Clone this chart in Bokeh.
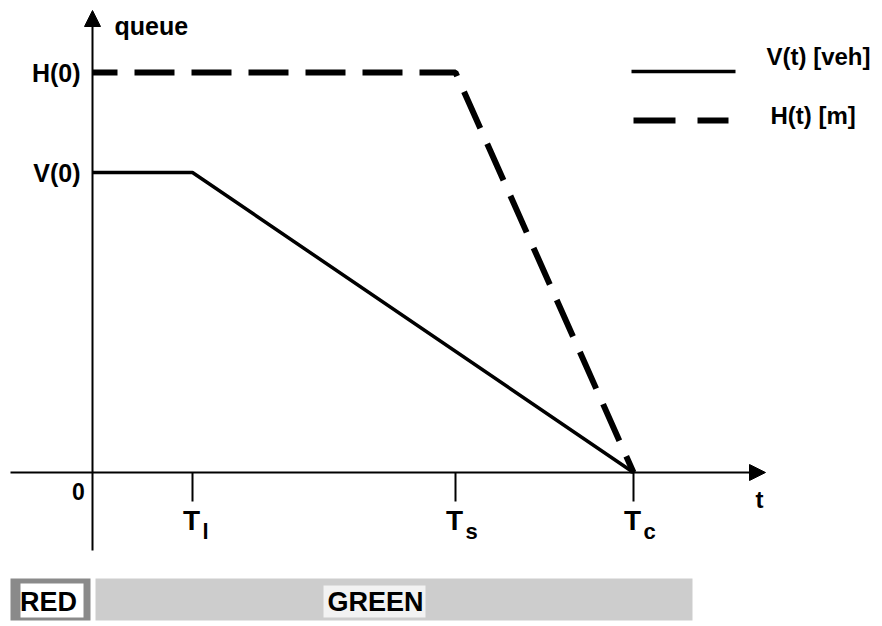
from bokeh.plotting import figure
from bokeh.models import Range1d, Arrow, NormalHead
from bokeh.core.properties import value
from bokeh.embed import file_html
from bokeh.resources import INLINE

# ---- data (schematic values) ----
V0 = 30.0          # initial queue in vehicles
H0 = 40.0          # initial queue length in metres
T_l = 10.0
T_s = 36.3
T_c = 54.1
v_t = [0.0, T_l, T_c]
v_q = [V0, V0, 0.0]
h_t = [0.0, T_s, T_c]
h_q = [H0, H0, 0.0]
tick_t = [T_l, T_s, T_c]
tick_main = ["T", "T", "T"]
tick_sub = ["l", "s", "c"]
phase_names = ["RED", "GREEN"]
phase_start = [-8.2, 0.3]
phase_end = [-0.2, 60.0]
legend_labels = ["V(t) [veh]", "H(t) [m]"]

FONT = value("Liberation Sans")

p = figure(width=880, height=624, output_backend="svg", toolbar_location=None,
           x_range=Range1d(-9.2, 78.8), y_range=Range1d(-15.2, 47.2),
           min_border=0, outline_line_color=None,
           x_axis_location=None, y_axis_location=None)
p.grid.visible = False
p.background_fill_color = "white"

# axes with arrows
p.add_layout(Arrow(end=NormalHead(size=16, fill_color="black", line_color="black"),
                   x_start=0, y_start=-7.8, x_end=0, y_end=46.2,
                   line_width=2, line_color="black"))
p.add_layout(Arrow(end=NormalHead(size=16, fill_color="black", line_color="black"),
                   x_start=-8.2, y_start=0, x_end=67.3, y_end=0,
                   line_width=2, line_color="black"))

# ticks
p.segment(x0=tick_t, y0=[0]*3, x1=tick_t, y1=[-2.9]*3, line_color="black", line_width=2)

# curves
p.line(v_t, v_q, line_color="black", line_width=3.5)
p.line(h_t, h_q, line_color="black", line_width=6, line_dash="40 17", line_dash_offset=15)

# axis texts
p.text(x=[-1.2, -1.2], y=[H0, V0], text=["H(0)", "V(0)"], text_font=FONT,
       text_font_style="bold", text_font_size="25px", text_align="right",
       text_baseline="middle", text_color="black")
p.text(x=[-1.4], y=[-1.9], text=["0"], text_font=FONT, text_font_style="bold",
       text_font_size="23px", text_align="center", text_baseline="middle")
p.text(x=[2.2], y=[44.7], text=["queue"], text_font=FONT, text_font_style="bold",
       text_font_size="25px", text_align="left", text_baseline="alphabetic")
p.text(x=[66.7], y=[-2.7], text=["t"], text_font=FONT, text_font_style="bold",
       text_font_size="24px", text_align="center", text_baseline="middle")
p.text(x=[t - 0.1 for t in tick_t], y=[-4.8] * 3, text=tick_main, text_font=FONT,
       text_font_style="bold", text_font_size="28px", text_align="center",
       text_baseline="middle")
p.text(x=[t + 1.0 for t in tick_t], y=[-5.9] * 3, text=tick_sub, text_font=FONT,
       text_font_style="bold", text_font_size="22px", text_align="left",
       text_baseline="middle")

# legend
p.line([53.9, 64.3], [40.1, 40.1], line_color="black", line_width=3.5)
p.line([54.1, 63.6], [35.2, 35.2], line_color="black", line_width=6, line_dash="42 22")
p.text(x=[67.4, 67.8], y=[41.6, 35.7], text=legend_labels, text_font=FONT,
       text_font_style="bold", text_font_size="24px", text_align="left",
       text_baseline="middle")

# signal phases bar
p.quad(left=[phase_start[0]], right=[phase_end[0]], bottom=[-14.8], top=[-10.6],
       fill_color="#8a8a8a", line_color=None)
p.quad(left=[phase_start[0] + 1.0], right=[phase_end[0] - 0.7], bottom=[-14.5], top=[-11.1],
       fill_color="white", line_color=None)
p.quad(left=[phase_start[1]], right=[phase_end[1]], bottom=[-14.8], top=[-10.6],
       fill_color="#cdcdcd", line_color=None)
gx = 28.3
p.quad(left=[gx - 5.2], right=[gx + 5.0], bottom=[-14.5], top=[-11.3],
       fill_color="#f2f2f2", line_color=None)
p.text(x=[(phase_start[0] + phase_end[0]) / 2 - 0.2, gx], y=[-12.9, -12.9], text=phase_names,
       text_font=FONT, text_font_style="bold", text_font_size="27px",
       text_align="center", text_baseline="middle")

open("out.html", "w").write(file_html(p, INLINE))
